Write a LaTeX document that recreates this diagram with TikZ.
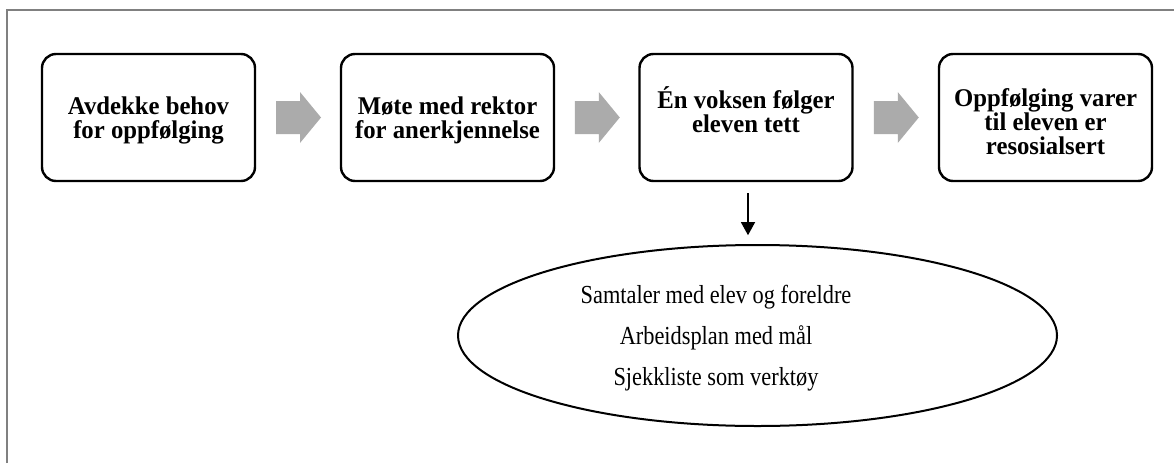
\documentclass[tikz,border=0pt]{standalone}
\usepackage{fontspec}
\setmainfont{Liberation Serif}
\newfontfamily\boxfont[FakeStretch=0.97]{Liberation Serif}
\newfontfamily\condfont[FakeStretch=0.86]{Liberation Serif}
\usetikzlibrary{arrows.meta,calc,shapes.geometric}
\newcommand\blockarrow[1]{%
  \fill[garrow] ($(#1)+(-22.5,-16.5)$) -- ($(#1)+(1.5,-16.5)$) -- ($(#1)+(1.5,-25.5)$)
    -- ($(#1)+(22.5,0)$) -- ($(#1)+(1.5,25.5)$) -- ($(#1)+(1.5,16.5)$)
    -- ($(#1)+(-22.5,16.5)$) -- cycle;}
\begin{document}
\begin{tikzpicture}[x=1pt,y=-1pt,
  stepbox/.style={draw=black, line width=2.4pt, rounded corners=14pt,
    minimum width=213pt, minimum height=127pt, inner sep=0pt},
  steptext/.style={font=\boxfont\bfseries\fontsize{25.5}{24}\selectfont, align=center, inner sep=0pt},
  garrow/.style={fill=black!33},
  frameline/.style={draw=black!50, line width=2pt},
  bubble/.style={draw=black, ellipse, line width=2pt, minimum width=599pt,
    minimum height=181pt, inner sep=0pt},
  bubbletext/.style={font=\condfont\fontsize{26}{41}\selectfont, align=center},
  downarrow/.style={draw=black, line width=1.2pt, -{Triangle[width=14pt,length=13pt]}}]
\useasboundingbox (0,0) rectangle (1174,463);
\draw[frameline] (7,463) -- (7,10) -- (1174,10);

\node[stepbox] (b1) at (148.5,117.5) {};
\node[stepbox] (b2) at (447.5,117.5) {};
\node[stepbox] (b3) at (746,117.5) {};
\node[stepbox] (b4) at (1045.5,117.5) {};
\node[steptext] (t1) at ($(b1)+(0,2.5)$) {Avdekke behov\\for oppfølging};
\node[steptext] (t2) at ($(b2)+(0,2.5)$) {Møte med rektor\\for anerkjennelse};
\node[steptext] (t3) at ($(b3)+(0,-8)$) {Én voksen følger\\eleven tett};
\node[steptext] (t4) at ($(b4)+(0,4.5)$) {Oppfølging varer\\til eleven er\\resosialsert};

\coordinate (a1) at ($(b1.east)!0.5!(b2.west)+(0.5,0)$);
\coordinate (a2) at ($(b2.east)!0.5!(b3.west)+(0.5,0)$);
\coordinate (a3) at ($(b3.east)!0.5!(b4.west)+(0.5,0)$);
\blockarrow{a1}
\blockarrow{a2}
\blockarrow{a3}

\node[bubble] (e) at (757.5,335.5) {};
\node[bubbletext] (et) at (716,338) {Samtaler med elev og foreldre\\Arbeidsplan med mål\\Sjekkliste som verktøy};

\coordinate (dstart) at ($(b3.south)+(2,11)$);
\coordinate (dtip) at ($(b3.south)+(2,53)$);
\draw[downarrow] (dstart) -- (dtip);
\end{tikzpicture}
\end{document}
